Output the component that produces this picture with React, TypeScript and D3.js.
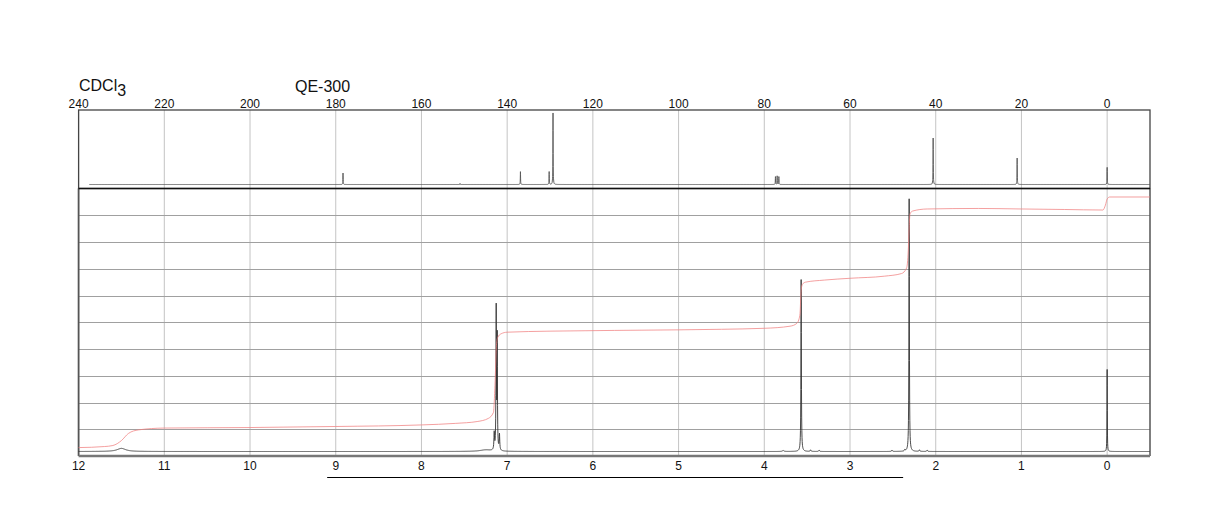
import React, { useMemo } from 'react';
import * as d3 from 'd3';

// ---------- data ----------
const c13Ticks = [240, 220, 200, 180, 160, 140, 120, 100, 80, 60, 40, 20, 0];
const h1Ticks = [12, 11, 10, 9, 8, 7, 6, 5, 4, 3, 2, 1, 0];

// 13C peaks (ppm, relative height 0..100)
const c13Shifts = [178.3, 151.0, 136.9, 130.2, 129.3, 77.4, 77.0, 76.6, 40.6, 21.0, 0.0];
const c13Heights = [16, 1.5, 18, 18, 100, 11, 12, 11, 65, 37, 24];

// 1H peaks (ppm, relative height 0..100, half width ppm)
const h1Shifts = [11.5, 7.25, 7.151, 7.128, 7.116, 7.09, 3.78, 3.57, 3.46, 3.36, 2.51, 2.36, 2.31, 2.19, 2.1, 0.0];
const h1Heights = [1.2, 0.6, 6.5, 54, 43, 6, 0.4, 66, 0.6, 0.5, 0.5, 0.6, 97, 0.6, 0.5, 31.5];
const h1Widths = [0.06, 0.08, 0.004, 0.003, 0.003, 0.004, 0.01, 0.003, 0.005, 0.005, 0.005, 0.005, 0.003, 0.005, 0.005, 0.002];

// integral curve (ppm, level in same units as the 1H spectrum)
const integralPpm = [12.0, 11.7, 11.6, 11.5, 11.42, 11.3, 11.0, 10.0, 9.0, 8.0, 7.6, 7.35, 7.22, 7.16, 7.14, 7.125, 7.11, 7.07, 7.0, 6.5, 5.0, 4.0, 3.7, 3.62, 3.585, 3.57, 3.555, 3.52, 3.3, 3.0, 2.6, 2.4, 2.34, 2.32, 2.31, 2.3, 2.27, 2.1, 1.5, 1.0, 0.5, 0.05, 0.02, 0.0, -0.03, -0.5];
const integralLevel = [1.5, 1.9, 2.3, 4.2, 6.9, 8.3, 9.0, 9.2, 9.6, 10.2, 10.8, 11.5, 12.7, 15, 27.3, 40.8, 43.8, 45.2, 45.8, 46.2, 46.7, 47.3, 48.1, 49.2, 52.3, 61.9, 64.2, 65, 65.8, 66.5, 67.3, 68.3, 70.4, 77.3, 85.8, 91.2, 92.3, 93.1, 93.3, 93.1, 92.9, 92.7, 94.6, 96.9, 97.7, 97.7];

// ---------- layout ----------
const W = 1224, H = 528;
const L = 78.6, R = 1150;
const topY0 = 110, divY = 188.5, botY = 456;

function lorentzSum(x: number, shifts: number[], heights: number[], widths: number[]) {
  let s = 0;
  for (let i = 0; i < shifts.length; i++) {
    const d = (x - shifts[i]) / widths[i];
    s += heights[i] / (1 + d * d);
  }
  return s;
}

export default function App() {
  const xC = d3.scaleLinear().domain([240, -10]).range([L, R]);
  const xH = d3.scaleLinear().domain([12, -0.5]).range([L, R]);
  const yC = d3.scaleLinear().domain([0, 100]).range([184.5, 113]);
  const yH = d3.scaleLinear().domain([0, 100]).range([451.5, 191]);
  const gridRows = d3.range(1, 10).map((k) => Math.round(divY + (k * (botY - divY)) / 10) + 0.5);

  const c13Path = useMemo(() => {
    const w = c13Shifts.map(() => 0.035);
    const pts: number[] = [];
    for (let p = 237.5; p >= -10; p -= 0.1) pts.push(p);
    c13Shifts.forEach((s) => {
      for (let k = -6; k <= 6; k++) pts.push(s + k * 0.02);
    });
    pts.sort((a, b) => b - a);
    const data = pts.map((p) => [p, lorentzSum(p, c13Shifts, c13Heights, w)] as [number, number]);
    return d3.line<[number, number]>().x((d) => xC(d[0])).y((d) => yC(d[1]))(data) || '';
  }, []);

  const h1Path = useMemo(() => {
    const pts: number[] = [];
    for (let p = 12; p >= -0.5; p -= 0.002) pts.push(p);
    h1Shifts.forEach((s) => pts.push(s, s + 0.001, s - 0.001));
    pts.sort((a, b) => b - a);
    const data = pts.map((p) => [p, lorentzSum(p, h1Shifts, h1Heights, h1Widths)] as [number, number]);
    return d3.line<[number, number]>().x((d) => xH(d[0])).y((d) => yH(d[1]))(data) || '';
  }, []);

  const intPath = useMemo(() => {
    const data = integralPpm.map((p, i) => [p, integralLevel[i]] as [number, number]);
    return d3.line<[number, number]>().x((d) => xH(d[0])).y((d) => yH(d[1])).curve(d3.curveMonotoneX)(data) || '';
  }, []);

  const font = '"Liberation Sans", Arial, sans-serif';

  return (
    <svg width={W} height={H} style={{ position: 'absolute', left: 0, top: 0, background: '#fff' }} fontFamily={font}>
      <rect x={0} y={0} width={W} height={H} fill="#fff" />
      {/* vertical grid */}
      {h1Ticks.map((t) => (
        <line key={'vg' + t} x1={xH(t)} x2={xH(t)} y1={topY0} y2={botY} stroke="#c4c4c4" strokeWidth={1} />
      ))}
      {/* horizontal grid */}
      {gridRows.map((y, i) => (
        <line key={'hg' + i} x1={L} x2={R} y1={y} y2={y} stroke="#a0a0a0" strokeWidth={1} />
      ))}
      {/* frames */}
      <rect x={L} y={topY0} width={R - L} height={divY - topY0} fill="none" stroke="#444" strokeWidth={1.3} />
      <line x1={L} x2={L} y1={divY} y2={botY} stroke="#555" strokeWidth={1.8} />
      <line x1={R} x2={R} y1={divY} y2={botY} stroke="#555" strokeWidth={1.5} />
      <line x1={L} x2={R} y1={divY} y2={divY} stroke="#111" strokeWidth={1.5} />
      <line x1={L} x2={R} y1={botY} y2={botY} stroke="#777" strokeWidth={2.5} />

      {/* spectra */}
      <path d={c13Path} fill="none" stroke="#555" strokeWidth={0.9} />
      <path d={h1Path} fill="none" stroke="#333" strokeWidth={0.9} />
      <path d={intPath} fill="none" stroke="#f08080" strokeOpacity={0.75} strokeWidth={1} />

      {/* tick labels */}
      {c13Ticks.map((t) => (
        <text key={'ct' + t} x={xC(t)} y={108} fontSize={12} textAnchor="middle" fill="#111">{t}</text>
      ))}
      {h1Ticks.map((t) => (
        <text key={'ht' + t} x={xH(t)} y={470} fontSize={12} textAnchor="middle" fill="#111">{t}</text>
      ))}

      {/* header */}
      <text x={79} y={91} fontSize={16} fill="#111">
        CDCl<tspan dy={5}>3</tspan>
      </text>
      <text x={295} y={92} fontSize={16} fill="#111">QE-300</text>

      {/* underline bar */}
      <line x1={xH(9.1)} x2={xH(2.38)} y1={477.5} y2={477.5} stroke="#000" strokeWidth={1} />
    </svg>
  );
}
